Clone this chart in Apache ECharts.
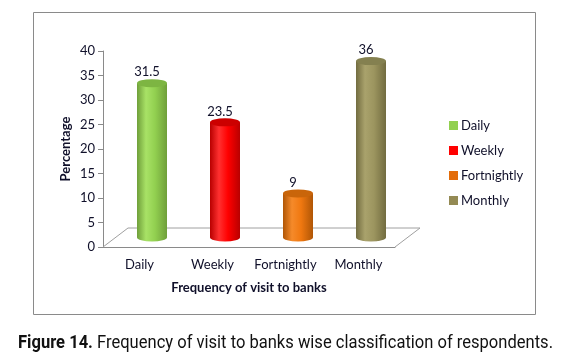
<!DOCTYPE html>
<html><head><meta charset="utf-8">
<script src="https://cdn.jsdelivr.net/npm/echarts@6/dist/echarts.min.js"></script>
<style>html,body{margin:0;padding:0;background:#fff}#c{width:585px;height:361px}</style>
</head><body><div id="c"></div>
<script>
var categories = ['Daily', 'Weekly', 'Fortnightly', 'Monthly'];
var values = [31.5, 23.5, 9, 36];
var yTicks = [0, 5, 10, 15, 20, 25, 30, 35, 40];
var colors = ['#92d050', '#ff0000', '#e36c09', '#948a54'];
var shades = [
  {dark:'#6f9f3a', light:'#a8e266', base:'#92d050', top:'#7db542'},
  {dark:'#b80000', light:'#ff3030', base:'#ff0000', top:'#cc0000'},
  {dark:'#b05606', light:'#f58a2a', base:'#f07810', top:'#c9650a'},
  {dark:'#726c40', light:'#a9a26c', base:'#9c955f', top:'#848050'}
];
var FONT = 'Lato, "Open Sans", sans-serif';
var TXT = '#10102a';
var DX = 25, DY = -19;
var capBold = 'Figure 14.';
var capRest = ' Frequency of visit to banks wise classification of respondents.';
var CAPFONT = 'Roboto, "Liberation Sans", sans-serif';

var chart = echarts.init(document.getElementById('c'), null, {renderer:'canvas'});

function barRender(k) {
  return function (params, api) {
    var idx = api.value(0), v = api.value(1);
    var p0 = api.coord([idx, 0]);
    var p1 = api.coord([idx, v]);
    var cx = p0[0] + DX / 2, yb = p0[1] + DY / 2, yt = p1[1] + DY / 2;
    var hw = 15, ry = 4;
    var s = shades[k];
    var grad = new echarts.graphic.LinearGradient(0, 0, 1, 0, [
      {offset:0, color:s.dark}, {offset:0.3, color:s.light},
      {offset:0.6, color:s.base}, {offset:1, color:s.dark}]);
    return {type:'group', children:[
      {type:'circle', x:cx, y:yb, scaleY:ry/hw, shape:{cx:0, cy:0, r:hw}, style:{fill:grad}},
      {type:'rect', shape:{x:cx - hw, y:yt, width:hw * 2, height:yb - yt}, style:{fill:grad}},
      {type:'circle', x:cx, y:yt, scaleY:ry/hw, shape:{cx:0, cy:0, r:hw}, style:{fill:s.top}},
      {type:'text', x:cx - 5, y:yt - 11, style:{text:String(v), fill:TXT, font:'13px ' + FONT, align:'center', verticalAlign:'middle'}}
    ]};
  };
}

var series = [{
  type:'custom', name:'floor', silent:true, z:1,
  data:[[0, 0]],
  renderItem:function (params, api) {
    var bw = api.size([1, 0])[0];
    var a = api.coord([0, 0]), b = api.coord([categories.length - 1, 0]);
    var x0 = a[0] - bw / 2, x1 = b[0] + bw / 2, y = a[1];
    return {type:'polyline', shape:{points:[[x0, y], [x0 + DX, y + DY], [x1 + DX, y + DY], [x1, y]]},
      style:{stroke:'#a0a0a0', fill:null, lineWidth:1}};
  }
}];
categories.forEach(function (c, k) {
  series.push({type:'custom', name:c, itemStyle:{color:colors[k]}, data:[[k, values[k]]], renderItem:barRender(k), z:3});
});

// measure caption to fit target width
var mctx = document.createElement('canvas').getContext('2d');
mctx.font = 'bold 18px ' + CAPFONT; var wB = mctx.measureText(capBold).width;
mctx.font = '18px ' + CAPFONT; var wR = mctx.measureText(capRest).width;
var capScale = 535 / (wB + wR);

chart.setOption({
  animation:false,
  backgroundColor:'#fff',
  textStyle:{fontFamily:FONT},
  graphic:[
    {type:'rect', shape:{x:33.5, y:12.5, width:502, height:302}, style:{fill:null, stroke:'#8a8a8a', lineWidth:1}, z:-1},
    {type:'text', x:18, y:343, scaleX:capScale, style:{
      text:'{b|' + capBold + '}{n|' + capRest + '}', verticalAlign:'middle',
      rich:{b:{font:'bold 18px ' + CAPFONT, fill:'#111'},
            n:{font:'18px ' + CAPFONT, fill:'#111'}}}}
  ],
  grid:{left:103, top:51, width:292, height:196, containLabel:false},
  legend:{orient:'vertical', left:444, top:114, itemWidth:9, itemHeight:9, itemGap:12, icon:'rect',
    data:categories, textStyle:{fontFamily:FONT, fontSize:13, color:TXT, padding:[0,0,0,-2]}},
  xAxis:{type:'category', data:categories,
    axisLine:{lineStyle:{color:'#8a8a8a'}}, axisTick:{length:5, lineStyle:{color:'#8a8a8a'}},
    axisLabel:{fontFamily:FONT, fontSize:13, color:TXT, margin:11, interval:0},
    name:'Frequency of visit to banks', nameLocation:'middle', nameGap:34,
    nameTextStyle:{fontFamily:FONT, fontSize:13, fontWeight:'bold', color:TXT}},
  yAxis:{type:'value', min:yTicks[0], max:yTicks[yTicks.length - 1], interval:5,
    axisLine:{show:true, lineStyle:{color:'#8a8a8a'}}, axisTick:{show:true, length:5, lineStyle:{color:'#8a8a8a'}},
    splitLine:{show:false},
    axisLabel:{fontFamily:FONT, fontSize:13, color:TXT, margin:8},
    name:'Percentage', nameLocation:'middle', nameGap:31, nameRotate:90,
    nameTextStyle:{fontFamily:FONT, fontSize:13, fontWeight:'bold', color:TXT}},
  series:series
});
</script></body></html>
